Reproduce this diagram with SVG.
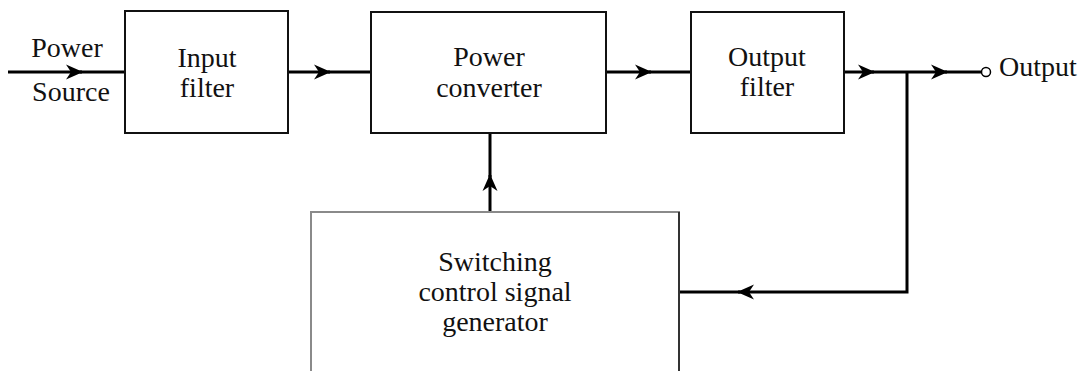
<svg xmlns="http://www.w3.org/2000/svg" width="1087" height="371" viewBox="0 0 1087 371">
<defs>
<style>
.box{fill:#fff;stroke:#111;stroke-width:2}
.gbox{fill:#fff;stroke:#8a8a8a;stroke-width:2}
.t{font-family:"Liberation Serif","Times New Roman",serif;font-size:28px;fill:#111;text-anchor:middle}
.w{fill:none;stroke:#000;stroke-width:3}
</style>
<marker id="arr" markerUnits="userSpaceOnUse" viewBox="-20 -10 22 20" refX="0" refY="0" markerWidth="22" markerHeight="20" orient="auto" overflow="visible">
<path d="M1,0 L-16,-7.5 L-11,0 L-16,7.5 Z" fill="#000"/>
</marker>
</defs>
<rect width="1087" height="371" fill="#fff"/>
<g id="connectors">
<path class="w" d="M8,72 H82" marker-end="url(#arr)"/>
<path class="w" d="M80,72 H125"/>
<path class="w" d="M288,72 H330" marker-end="url(#arr)"/>
<path class="w" d="M328,72 H371"/>
<path class="w" d="M606,72 H651" marker-end="url(#arr)"/>
<path class="w" d="M649,72 H691"/>
<path class="w" d="M844,72 H874" marker-end="url(#arr)"/>
<path class="w" d="M872,72 H947" marker-end="url(#arr)"/>
<path class="w" d="M945,72 H981"/>
<path class="w" d="M907,72 V292 H738" marker-end="url(#arr)"/>
<path class="w" d="M740,292 H679"/>
<path class="w" d="M490,212 V175" marker-end="url(#arr)"/>
<path class="w" d="M490,177 V133"/>
<circle cx="986" cy="72" r="4.5" fill="#fff" stroke="#000" stroke-width="1.5"/>
</g>
<g id="source-label">
<text class="t" x="67" y="57">Power</text>
<text class="t" x="71" y="101">Source</text>
</g>
<g id="input-filter">
<rect class="box" x="125" y="11" width="163" height="122"/>
<text class="t" x="207" y="67">Input</text>
<text class="t" x="207" y="97">filter</text>
</g>
<g id="power-converter">
<rect class="box" x="371" y="12" width="235" height="121"/>
<text class="t" x="489" y="66">Power</text>
<text class="t" x="489" y="97">converter</text>
</g>
<g id="output-filter">
<rect class="box" x="691" y="12" width="153" height="121"/>
<text class="t" x="767" y="66">Output</text>
<text class="t" x="767" y="96">filter</text>
</g>
<g id="output-label">
<text class="t" x="999" y="76" style="text-anchor:start">Output</text>
</g>
<g id="switching-generator">
<rect class="gbox" x="311" y="212" width="368" height="170"/>
<line x1="679" y1="212" x2="679" y2="371" stroke="#333" stroke-width="2"/>
<text class="t" x="495" y="271">Switching</text>
<text class="t" x="495" y="301">control signal</text>
<text class="t" x="495" y="331">generator</text>
</g>
</svg>
